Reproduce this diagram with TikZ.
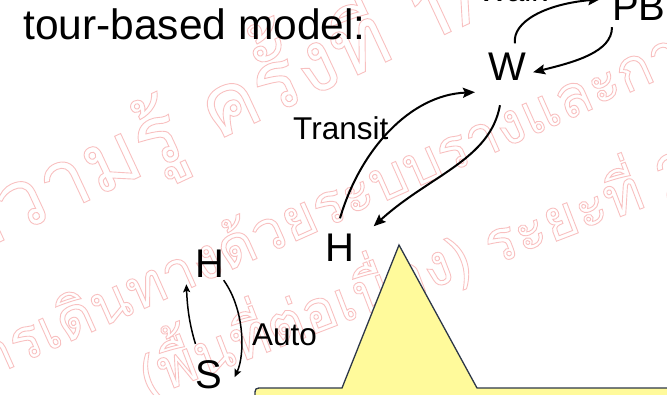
\documentclass[tikz,border=0pt]{standalone}
\usepackage{fontspec}
\setmainfont{Liberation Sans}
\newfontfamily\thaifont[Script=Thai]{Loma}
\usetikzlibrary{arrows.meta,calc}
\definecolor{wmpink}{RGB}{248,192,192}
\definecolor{calloutfill}{RGB}{255,250,155}
\definecolor{calloutline}{RGB}{45,55,72}
% outlined (stroked, unfilled) glyphs
\newcommand\hollowtext[1]{\special{pdf:literal direct 1 Tr 0.9 w}#1\special{pdf:literal direct 0 Tr}}
\begin{document}
\begin{tikzpicture}[x=1pt,y=-1pt,
  lbl/.style={inner sep=0pt, anchor=base, font=\fontsize{40}{40}\selectfont},
  mode/.style={inner sep=0pt, anchor=base west, font=\fontsize{31.5}{31.5}\selectfont},
  trip/.style={line width=2pt, -{Stealth[length=12pt,width=10pt,inset=2pt]}},
  smalltrip/.style={line width=1.5pt, -{Stealth[length=8pt,width=7pt,inset=1.5pt]}},
  wm/.style={inner sep=0pt, anchor=base west, text=wmpink}
]
\useasboundingbox (0,0) rectangle (667,394);
\begin{scope}
\clip (0,0) rectangle (667,394);
% background watermark
\node[wm, rotate=25, font=\thaifont\fontsize{85}{85}\selectfont] (wmA) at (-41,261) {\hollowtext{ความรู้ ครั้งที่ 1/}};
\node[wm, rotate=24, font=\thaifont\fontsize{58}{58}\selectfont] (wmB) at (-43,392) {\hollowtext{การเดินทางด้วยระบบรางและการ}};
\node[wm, rotate=21, font=\thaifont\fontsize{58}{58}\selectfont] (wmC) at (148,398) {\hollowtext{(พื้นที่ต่อเนื่อง) ระยะที่ 2}};

% callout balloon
\draw[calloutline, fill=calloutfill, line width=1.3pt]
  (255,402) -- (255,396) .. controls (255,388) .. (263,388) -- (342,388)
  -- (399,245) -- (477,388) -- (680,388) -- (680,402) -- cycle;

% title
\node[inner sep=0pt, anchor=base west, font=\fontsize{42.5}{42.5}\selectfont] (title) at (23,39) {tour-based model:};

% places
\node[lbl] (W) at (507,80) {W};
\node[lbl, anchor=base west] (PB) at (612,20) {PB};
\node[lbl] (Hr) at (340,261) {H};
\node[lbl] (Hl) at (210,277) {H};
\node[lbl] (S) at (209,388) {S};

% mode labels
\node[mode] (walk) at (478,1) {Walk};
\node[mode] (transit) at (293,139) {Transit};
\node[mode] (auto) at (252,345) {Auto};

% trips
\draw[trip] ($(W.north)+(8,-9)$) .. controls (512,22) and (545,4) .. ($(PB.west)+(-12,-7)$);
\draw[trip] ($(PB.south west)+(0,7)$) .. controls (612,52) and (575,62) .. ($(W.east)+(7,6)$);
\draw[trip] ($(Hr.north)+(0,-15)$) .. controls (360,150) and (410,95) .. ($(W.south west)+(-13,12)$);
\draw[trip] ($(W.south)+(-7,25)$) .. controls (490,160) and (430,175) .. ($(Hr.north east)+(19,-7)$);
\draw[smalltrip] ($(S.north west)+(0,-16)$) .. controls (188,320) and (187,300) .. ($(Hl.south west)+(-9,7)$);
\draw[smalltrip] ($(Hl.south east)+(-1,3)$) .. controls (245,310) and (245,355) .. ($(S.east)+(12,3)$);
\end{scope}
\end{tikzpicture}
\end{document}
